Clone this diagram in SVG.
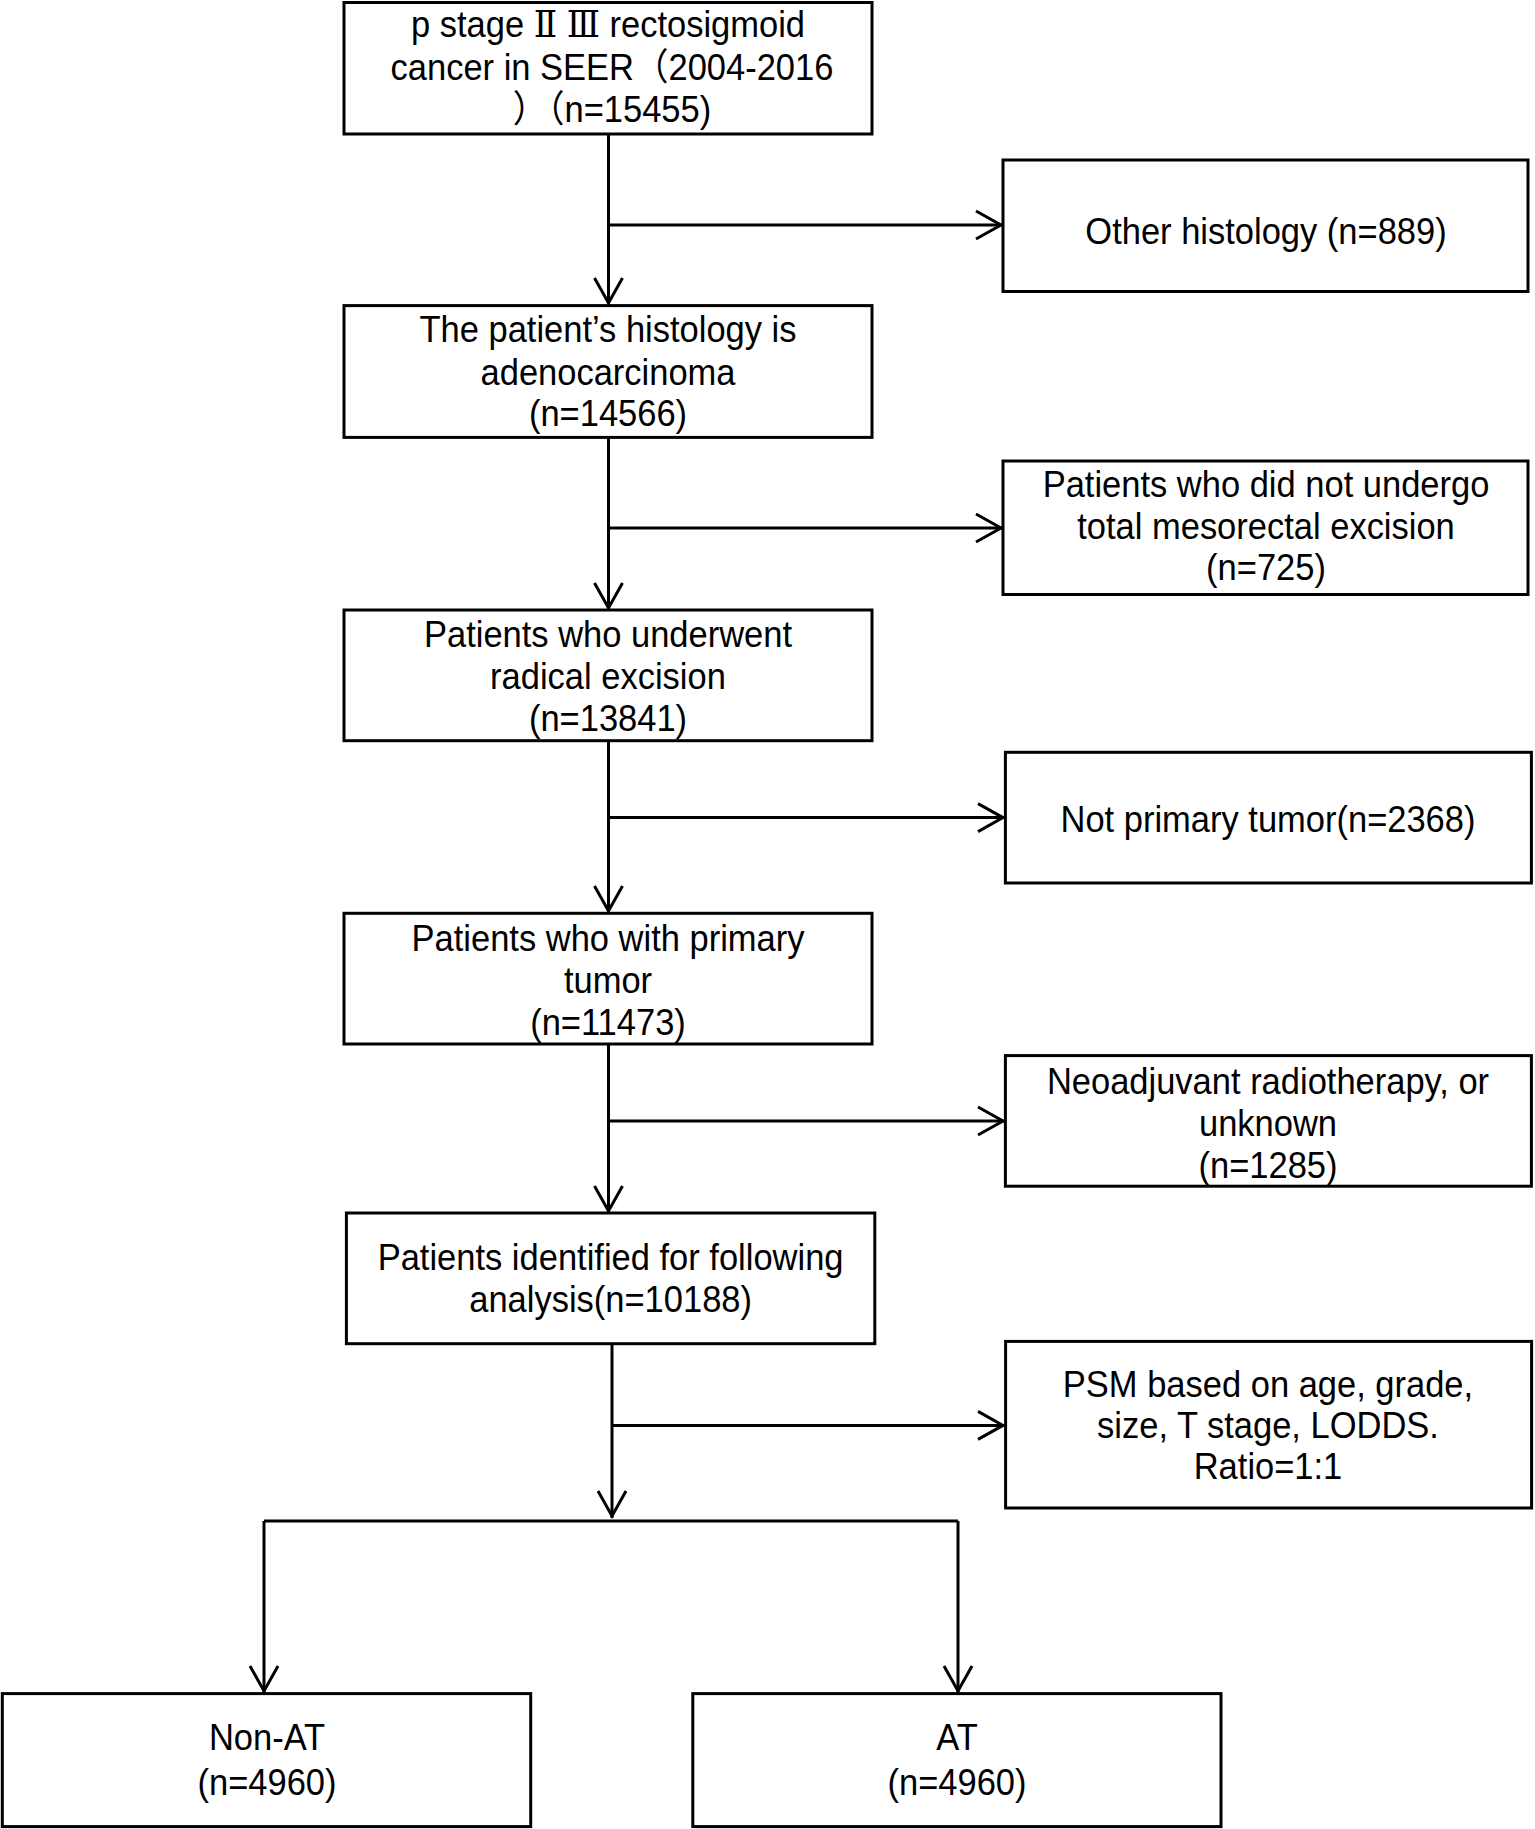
<svg xmlns="http://www.w3.org/2000/svg" width="1535" height="1829" viewBox="0 0 1535 1829">
<style>
.box{fill:#fff;stroke:#000;stroke-width:3}
.t{font-family:"Liberation Sans",Arial,"Noto Sans CJK SC",sans-serif;font-size:34.5px;text-anchor:middle;fill:#000}
.c{fill:none;stroke:#000;stroke-width:3}
.rn{font-family:"DejaVu Serif","Noto Sans CJK SC",serif}
</style>
<defs>
<marker id="ah" viewBox="-32 -18 40 36" refX="0" refY="0" markerWidth="40" markerHeight="36" markerUnits="userSpaceOnUse" orient="auto">
<path d="M-27,-14 L-2,0 L-27,14" fill="none" stroke="#000" stroke-width="3"/>
</marker>
</defs>
<rect width="1535" height="1829" fill="#fff"/>
<g id="connectors">
<path class="c" d="M608.5,134 V305" marker-end="url(#ah)"/>
<path class="c" d="M608.5,225 H1003" marker-end="url(#ah)"/>
<path class="c" d="M608.5,437.4 V610" marker-end="url(#ah)"/>
<path class="c" d="M608.5,528 H1003" marker-end="url(#ah)"/>
<path class="c" d="M608.5,740.7 V913" marker-end="url(#ah)"/>
<path class="c" d="M608.5,817.6 H1005" marker-end="url(#ah)"/>
<path class="c" d="M608.5,1044 V1213" marker-end="url(#ah)"/>
<path class="c" d="M608.5,1121 H1005" marker-end="url(#ah)"/>
<path class="c" d="M612,1343.7 V1518" marker-end="url(#ah)"/>
<path class="c" d="M612,1425.4 H1005" marker-end="url(#ah)"/>
<path class="c" d="M264,1521 H958"/>
<path class="c" d="M264,1521 V1693" marker-end="url(#ah)"/>
<path class="c" d="M958,1521 V1693" marker-end="url(#ah)"/>
</g>
<g id="n1">
<rect class="box" x="344" y="2.5" width="528" height="131.5"/>
<text class="t" transform="translate(608,37) scale(1,1.08)">p stage <tspan class="rn">Ⅱ</tspan> <tspan class="rn">Ⅲ</tspan> rectosigmoid</text>
<text class="t" transform="translate(612,80) scale(1,1.08)">cancer in SEER（2004-2016</text>
<text class="t" transform="translate(612,122) scale(1,1.08)">）（n=15455)</text>
</g>
<g id="r1">
<rect class="box" x="1003" y="160" width="525" height="131.5"/>
<text class="t" transform="translate(1266,244) scale(1,1.08)">Other histology (n=889)</text>
</g>
<g id="n2">
<rect class="box" x="344" y="305.6" width="528" height="131.8"/>
<text class="t" transform="translate(608,342) scale(1,1.08)">The patient’s histology is</text>
<text class="t" transform="translate(608,385) scale(1,1.08)">adenocarcinoma</text>
<text class="t" transform="translate(608,426) scale(1,1.08)">(n=14566)</text>
</g>
<g id="r2">
<rect class="box" x="1003" y="461" width="525" height="133.5"/>
<text class="t" transform="translate(1266,497) scale(1,1.08)">Patients who did not undergo</text>
<text class="t" transform="translate(1266,539) scale(1,1.08)">total mesorectal excision</text>
<text class="t" transform="translate(1266,580) scale(1,1.08)">(n=725)</text>
</g>
<g id="n3">
<rect class="box" x="344" y="610" width="528" height="130.7"/>
<text class="t" transform="translate(608,647) scale(1,1.08)">Patients who underwent</text>
<text class="t" transform="translate(608,689) scale(1,1.08)">radical excision</text>
<text class="t" transform="translate(608,731) scale(1,1.08)">(n=13841)</text>
</g>
<g id="r3">
<rect class="box" x="1005.4" y="752.3" width="526" height="130.7"/>
<text class="t" transform="translate(1268,832) scale(1,1.08)">Not primary tumor(n=2368)</text>
</g>
<g id="n4">
<rect class="box" x="344" y="913.3" width="528" height="130.7"/>
<text class="t" transform="translate(608,951) scale(1,1.08)">Patients who with primary</text>
<text class="t" transform="translate(608,993) scale(1,1.08)">tumor</text>
<text class="t" transform="translate(608,1035) scale(1,1.08)">(n=11473)</text>
</g>
<g id="r4">
<rect class="box" x="1005.4" y="1055.6" width="526" height="130.6"/>
<text class="t" transform="translate(1268,1094) scale(1,1.08)">Neoadjuvant radiotherapy, or</text>
<text class="t" transform="translate(1268,1136) scale(1,1.08)">unknown</text>
<text class="t" transform="translate(1268,1178) scale(1,1.08)">(n=1285)</text>
</g>
<g id="n5">
<rect class="box" x="346.4" y="1213" width="528.4" height="130.7"/>
<text class="t" transform="translate(610.6,1270) scale(1,1.08)">Patients identified for following</text>
<text class="t" transform="translate(610.6,1312) scale(1,1.08)">analysis(n=10188)</text>
</g>
<g id="r5">
<rect class="box" x="1005.6" y="1341.4" width="526" height="166.6"/>
<text class="t" transform="translate(1268,1397) scale(1,1.08)">PSM based on age, grade,</text>
<text class="t" transform="translate(1268,1438) scale(1,1.08)">size, T stage, LODDS.</text>
<text class="t" transform="translate(1268,1479) scale(1,1.08)">Ratio=1:1</text>
</g>
<g id="nonat">
<rect class="box" x="2.3" y="1693.6" width="528.4" height="133"/>
<text class="t" transform="translate(267,1750) scale(1,1.05)">Non-AT</text>
<text class="t" transform="translate(267,1795) scale(1,1.05)">(n=4960)</text>
</g>
<g id="at">
<rect class="box" x="692.8" y="1693.6" width="528.2" height="133"/>
<text class="t" transform="translate(957,1750) scale(1,1.05)">AT</text>
<text class="t" transform="translate(957,1795) scale(1,1.05)">(n=4960)</text>
</g>
</svg>
